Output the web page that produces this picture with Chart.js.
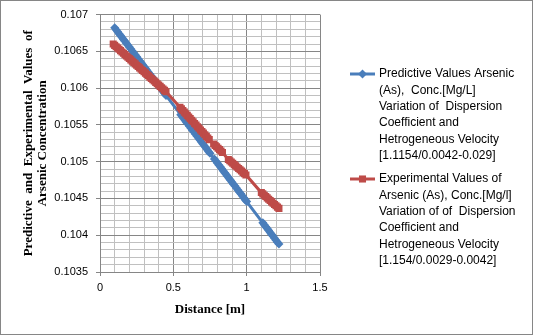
<!DOCTYPE html>
<html lang="en">
  <head>
    <meta charset="UTF-8" />
    <title>Arsenic concentration vs distance</title>
    <script src="https://cdn.jsdelivr.net/npm/chart.js"></script>
    <style>
      body { margin: 0; background: #fff; }
      #wrap { position: relative; width: 533px; height: 335px; }
      #frame {
        position: absolute; left: 0; top: 0; width: 533px; height: 335px;
        box-sizing: border-box; border: 1px solid #868686; pointer-events: none;
      }
    </style>
  </head>

  <body>
    <div id="wrap">
      <canvas id="chart" width="533" height="335"></canvas>
      <div id="frame"></div>
    </div>

    <script>
      // Predictive series (blue diamonds)
      const predDistance = [
        0.10, 0.11, 0.12, 0.13, 0.14, 0.15, 0.16, 0.17, 0.18, 0.19, 0.20, 0.21, 0.22, 0.23, 0.24, 0.25, 0.26, 0.27,
        0.28, 0.29, 0.30, 0.31, 0.32, 0.33, 0.34, 0.35, 0.36, 0.37, 0.38, 0.39, 0.40, 0.41, 0.42, 0.43, 0.44, 0.45,
        0.55, 0.56, 0.57, 0.58, 0.59, 0.60, 0.61, 0.62, 0.63, 0.64, 0.65, 0.66, 0.67, 0.68, 0.69, 0.70, 0.71, 0.72,
        0.73, 0.74, 0.75,
        0.78, 0.79, 0.80, 0.81, 0.82, 0.83, 0.84, 0.85, 0.86, 0.87, 0.88, 0.89, 0.90, 0.91, 0.92, 0.93, 0.94, 0.95,
        0.96, 0.97, 0.98, 0.99, 1.00,
        1.11, 1.12, 1.13, 1.14, 1.15, 1.16, 1.17, 1.18, 1.19, 1.20, 1.21, 1.22
      ];
      const predValues = [
        0.10682, 0.106794, 0.106768, 0.106741, 0.106715, 0.106689, 0.106663, 0.106636, 0.10661, 0.106584, 0.106558,
        0.106531, 0.106505, 0.106479, 0.106453, 0.106426, 0.1064, 0.106374, 0.106348, 0.106321, 0.106295, 0.106269,
        0.106243, 0.106216, 0.10619, 0.106164, 0.106138, 0.106111, 0.106085, 0.106059, 0.106033, 0.106006, 0.10598,
        0.105954, 0.105928, 0.105901,
        0.105639, 0.105613, 0.105586, 0.10556, 0.105534, 0.105508, 0.105481, 0.105455, 0.105429, 0.105403, 0.105376,
        0.10535, 0.105324, 0.105298, 0.105271, 0.105245, 0.105219, 0.105193, 0.105166, 0.10514, 0.105114,
        0.105035, 0.105009, 0.104983, 0.104956, 0.10493, 0.104904, 0.104878, 0.104851, 0.104825, 0.104799, 0.104773,
        0.104746, 0.10472, 0.104694, 0.104668, 0.104641, 0.104615, 0.104589, 0.104563, 0.104536, 0.10451, 0.104484,
        0.104458,
        0.104169, 0.104143, 0.104116, 0.10409, 0.104064, 0.104038, 0.104011, 0.103985, 0.103959, 0.103933, 0.103906,
        0.10388
      ];

      // Experimental series (red squares)
      const expDistance = [
        0.09, 0.10, 0.11, 0.12, 0.13, 0.14, 0.15, 0.16, 0.17, 0.18, 0.19, 0.20, 0.21, 0.22, 0.23, 0.24, 0.25, 0.26,
        0.27, 0.28, 0.29, 0.30, 0.31, 0.32, 0.33, 0.34, 0.35, 0.36, 0.37, 0.38, 0.39, 0.40, 0.41, 0.42, 0.43, 0.44, 0.45,
        0.545, 0.555, 0.565, 0.575, 0.585, 0.595, 0.605, 0.615, 0.625, 0.635, 0.645, 0.655, 0.665, 0.675, 0.685, 0.695,
        0.705, 0.715, 0.725, 0.735, 0.745,
        0.775, 0.785, 0.795, 0.805, 0.815, 0.825, 0.835,
        0.875, 0.885, 0.895, 0.905, 0.915, 0.925, 0.935, 0.945, 0.955, 0.965, 0.975, 0.985, 0.995,
        1.10, 1.11, 1.12, 1.13, 1.14, 1.15, 1.16, 1.17, 1.18, 1.19, 1.20, 1.21, 1.22
      ];
      const expValues = [
        0.1066, 0.106582, 0.106564, 0.106546, 0.106528, 0.10651, 0.106492, 0.106474, 0.106456, 0.106438, 0.10642,
        0.106402, 0.106384, 0.106366, 0.106348, 0.10633, 0.106312, 0.106294, 0.106276, 0.106258, 0.10624, 0.106222,
        0.106204, 0.106186, 0.106168, 0.10615, 0.106132, 0.106114, 0.106096, 0.106078, 0.10606, 0.106042, 0.106024,
        0.106006, 0.105988, 0.10597, 0.105952,
        0.10574, 0.105718, 0.105696, 0.105674, 0.105652, 0.10563, 0.105608, 0.105586, 0.105564, 0.105542, 0.10552,
        0.105498, 0.105476, 0.105454, 0.105432, 0.10541, 0.105388, 0.105366, 0.105344, 0.105322, 0.1053,
        0.10524, 0.105221, 0.105202, 0.105183, 0.105164, 0.105145, 0.105126,
        0.10503, 0.105013, 0.104995, 0.104978, 0.10496, 0.104943, 0.104925, 0.104908, 0.10489, 0.104873, 0.104855,
        0.104838, 0.10482,
        0.10458, 0.104562, 0.104544, 0.104526, 0.104508, 0.10449, 0.104472, 0.104454, 0.104436, 0.104418, 0.1044,
        0.104382, 0.104365
      ];

      const predLegend = [
        "Predictive Values Arsenic",
        "(As),  Conc.[Mg/L]",
        "Variation of  Dispersion",
        "Coefficient and",
        "Hetrogeneous Velocity",
        "[1.1154/0.0042-0.029]"
      ];
      const expLegend = [
        "Experimental Values of",
        "Arsenic (As), Conc.[Mg/l]",
        "Variation of of  Dispersion",
        "Coefficient and",
        "Hetrogeneous Velocity",
        "[1.154/0.0029-0.0042]"
      ];

      const yTitle = ["Predictive  and  Experimental  Values  of", "Arsenic Concentration"];
      const xTitle = "Distance [m]";

      const BLUE = "#4a7ebb";
      const RED = "#be4b48";
      const MAJOR = "#868686";
      const MINOR = "#c0c0c0";

      const toPoints = (xs, ys) => xs.map((x, i) => ({ x: x, y: ys[i] }));
      const isMajorX = (v) => Math.abs(v * 2 - Math.round(v * 2)) < 1e-6;
      const isMajorY = (v) => Math.abs(v * 2000 - Math.round(v * 2000)) < 1e-6;

      // legend drawn at the right, Excel style (line with marker + wrapped text)
      const sideLegend = {
        id: "sideLegend",
        afterDraw(chart) {
          const ctx = chart.ctx;
          const items = [
            { lines: predLegend, color: BLUE, style: "rectRot", y: 74 },
            { lines: expLegend, color: RED, style: "rect", y: 179 }
          ];
          ctx.save();
          items.forEach((it) => {
            ctx.strokeStyle = it.color;
            ctx.lineWidth = 3;
            ctx.beginPath();
            ctx.moveTo(350, it.y);
            ctx.lineTo(375, it.y);
            ctx.stroke();
            ctx.fillStyle = it.color;
            Chart.helpers.drawPoint(ctx, { pointStyle: it.style, radius: it.style === "rect" ? 5 : 4.5, borderWidth: 0 }, 362.5, it.y);
            ctx.fillStyle = "#000";
            ctx.font = '12px "Liberation Sans"';
            ctx.textBaseline = "middle";
            ctx.textAlign = "left";
            it.lines.forEach((t, i) => ctx.fillText(t, 379, it.y + i * 16.3));
          });
          ctx.restore();
        }
      };

      new Chart(document.getElementById("chart"), {
        type: "scatter",
        data: {
          datasets: [
            {
              label: predLegend.join(" "),
              data: toPoints(predDistance, predValues),
              showLine: true,
              borderColor: BLUE,
              backgroundColor: BLUE,
              borderWidth: 3,
              pointStyle: "rectRot",
              pointRadius: 4.5,
              pointBorderWidth: 0,
              order: 1
            },
            {
              label: expLegend.join(" "),
              data: toPoints(expDistance, expValues),
              showLine: true,
              borderColor: RED,
              backgroundColor: RED,
              borderWidth: 3,
              pointStyle: "rect",
              pointRadius: 5,
              pointBorderWidth: 0,
              order: 0
            }
          ]
        },
        options: {
          responsive: false,
          animation: false,
          devicePixelRatio: 1,
          layout: { padding: { left: 0, top: 14, right: 213, bottom: 13 } },
          plugins: {
            legend: { display: false },
            tooltip: { enabled: false }
          },
          scales: {
            x: {
              type: "linear",
              min: 0,
              max: 1.5,
              afterFit: (s) => { s.height = 50; },
              border: { color: MAJOR },
              grid: {
                color: (c) => (isMajorX(c.tick.value) ? MAJOR : MINOR),
                tickColor: (c) => (isMajorX(c.tick.value) ? MAJOR : "rgba(0,0,0,0)"),
                tickLength: 4
              },
              ticks: {
                stepSize: 0.1,
                autoSkip: false,
                maxRotation: 0,
                padding: 5,
                color: "#000",
                font: { family: "Liberation Sans", size: 11 },
                callback: (v) => (isMajorX(v) ? String(Math.round(v * 2) / 2) : "")
              },
              title: {
                display: true,
                text: xTitle,
                color: "#000",
                font: { family: "Liberation Serif", size: 13, weight: "bold", lineHeight: 1.1 },
                padding: { top: 0, bottom: 5 }
              }
            },
            y: {
              type: "linear",
              min: 0.1035,
              max: 0.107,
              afterFit: (s) => { s.width = 100; },
              border: { color: MAJOR },
              grid: {
                color: (c) => (isMajorY(c.tick.value) ? MAJOR : MINOR),
                tickColor: (c) => (isMajorY(c.tick.value) ? MAJOR : "rgba(0,0,0,0)"),
                tickLength: 4
              },
              ticks: {
                stepSize: 0.0001,
                autoSkip: false,
                padding: 8,
                color: "#000",
                font: { family: "Liberation Sans", size: 11 },
                callback: (v) => (isMajorY(v) ? String(Math.round(v * 20000) / 20000) : "")
              },
              title: {
                display: true,
                text: yTitle,
                color: "#000",
                font: { family: "Liberation Serif", size: 13, weight: "bold", lineHeight: 1.1 },
                padding: { top: 21, bottom: 0 }
              }
            }
          }
        },
        plugins: [sideLegend]
      });
    </script>
  </body>
</html>
